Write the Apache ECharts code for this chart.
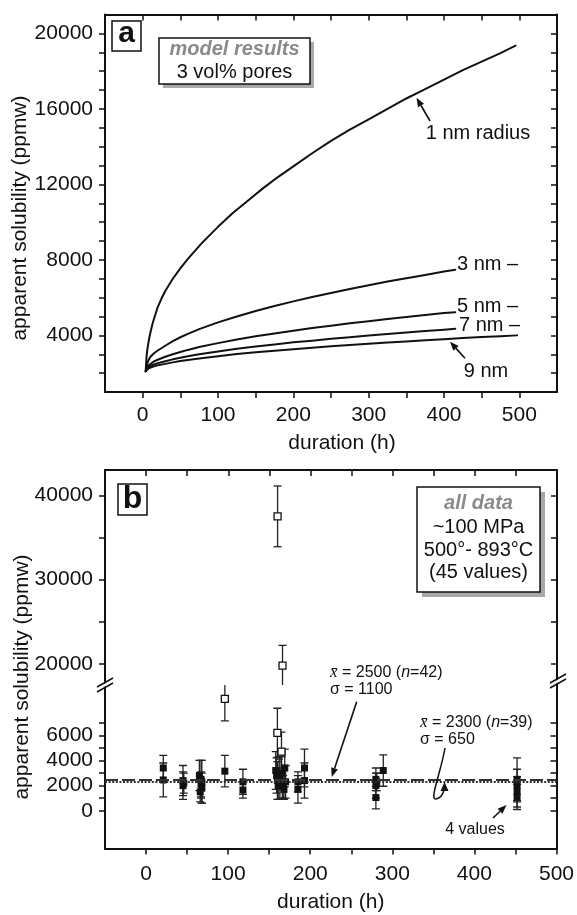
<!DOCTYPE html>
<html><head><meta charset="utf-8">
<script src="https://cdn.jsdelivr.net/npm/echarts@6/dist/echarts.min.js"></script>
<style>html,body{margin:0;padding:0;background:#fff}#c{width:577px;height:915px}</style>
</head><body><div id="c"></div>
<script>
const FONT = "'Liberation Sans', Arial, Helvetica, sans-serif";
const INK = '#111';

// ---------- Panel a: model curves (duration h, apparent solubility ppmw) ----------
const t1nm = [4,5,6,8,10,13,16,20,25,30,40,50,60,70,80,90,100,120,140,160,180,200,225,250,275,300,325,350,375,400,425,450,475,495];
const v1nm = [2100,2800,3200,3700,4100,4600,5000,5500,5950,6350,7000,7550,8050,8500,8950,9350,9750,10500,11150,11800,12400,12950,13650,14300,14900,15450,16000,16550,17050,17550,18050,18500,18950,19350];
const t3nm = [4,6,8,10,15,20,30,40,50,60,75,100,125,150,175,200,225,250,275,300,325,350,375,400,415];
const v3nm = [2100,2500,2700,2850,3050,3200,3450,3700,3900,4080,4330,4690,5000,5290,5560,5800,6030,6250,6460,6660,6850,7030,7200,7380,7480];
const t5nm = [4,6,8,10,15,20,30,40,50,60,75,100,125,150,175,200,225,250,275,300,325,350,375,400,415];
const v5nm = [2100,2300,2420,2500,2620,2710,2870,3000,3120,3230,3380,3590,3780,3950,4100,4250,4390,4510,4640,4750,4870,4970,5080,5180,5230];
const t7nm = [4,6,8,10,15,20,30,40,50,60,75,100,125,150,175,200,225,250,275,300,325,350,375,400,415];
const v7nm = [2100,2250,2330,2380,2460,2520,2630,2730,2810,2890,3000,3150,3290,3410,3520,3630,3720,3820,3900,3990,4070,4150,4230,4300,4350];
const t9nm = [4,6,8,10,15,20,30,40,50,60,75,100,125,150,175,200,225,250,275,300,325,350,375,400,425,450,475,497];
const v9nm = [2100,2200,2260,2300,2360,2410,2490,2570,2640,2700,2780,2900,3010,3100,3190,3270,3350,3420,3490,3560,3620,3680,3740,3800,3860,3910,3960,4000];

// ---------- Panel b: measurements ----------
const filledT = [21,21,45,45,46,65,67,67,68,66,68,96,118,118,158,159,160,161,162,163,165,166,167,168,169,170,185,185,193,193,280,280,280,281,289,452,452,452,452];
const filledV = [3400,2450,2400,2000,2200,2800,2500,2100,1800,1500,2300,3150,2300,1650,3200,2800,2400,2000,2900,2600,3000,2200,1900,1700,3400,2300,1700,2300,3400,2400,2500,2000,1050,2300,3200,2500,2000,1500,1100];
const filledErr = [1000,1350,1200,1100,800,1200,1500,1000,1200,800,1700,1250,1000,650,1500,1400,1500,1100,1200,1700,1300,1200,900,800,1500,1300,1100,800,1500,1400,900,1000,900,700,1250,1700,1300,1200,1000];
const openT = [96,160,165,160,166];
const openV = [8900,6200,4700,37500,19800];
const openErr = [1750,1950,1550,3600,2400];
const meanAll = 2500;   // n=42
const meanSub = 2300;   // n=39

// tick / label values
const xTicksA = [0,50,100,150,200,250,300,350,400,450,500];
const xLabelsA = [0,100,200,300,400,500];
const yTicksA = [2000,3000,4000,5000,6000,7000,8000,9000,10000,11000,12000,13000,14000,15000,16000,17000,18000,19000,20000];
const yLabelsA = [4000,8000,12000,16000,20000];
const xTicksB = [0,50,100,150,200,250,300,350,400,450];
const xLabelsB = [0,100,200,300,400,500];
const yTicksBup = [20000,25000,30000,35000,40000];
const yLabelsBup = [20000,30000,40000];
const yTicksBlo = [0,1000,2000,3000,4000,5000,6000,7000];
const yLabelsBlo = [0,2000,4000,6000];

const zip = (a,b)=>a.map((x,i)=>[x,b[i]]);
const zip3 = (a,b,c)=>a.map((x,i)=>[x,b[i],c[i]]);

const axLine = {show:true, onZero:false, lineStyle:{color:INK, width:2}};
const tick = (vals, inside)=>({show:true, inside:inside, length:6, customValues:vals, lineStyle:{color:INK, width:1.5}});
const lab = (vals, margin)=>({show:true, customValues:vals, fontSize:21, color:INK, fontFamily:FONT, margin:margin,
  formatter:function(v){ return String(Math.round(v)); }});
const noLab = {show:false};
const noSplit = {show:false};

function errRender(params, api){
  const x = api.value(0), y = api.value(1), e = api.value(2);
  const a = api.coord([x, y+e]);
  const b = api.coord([x, y-e]);
  const w = 4;
  const st = {stroke:'#222', lineWidth:1.3, fill:null};
  return {type:'group', children:[
    {type:'line', shape:{x1:a[0],y1:a[1],x2:b[0],y2:b[1]}, style:st},
    {type:'line', shape:{x1:a[0]-w,y1:a[1],x2:a[0]+w,y2:a[1]}, style:st},
    {type:'line', shape:{x1:b[0]-w,y1:b[1],x2:b[0]+w,y2:b[1]}, style:st}
  ]};
}

const curveStyle = {color:INK, width:2, join:'round', cap:'round'};
function curve(t,v){
  return {type:'line', xAxisIndex:0, yAxisIndex:0, data:zip(t,v), showSymbol:false, symbol:'none',
    smooth:false, lineStyle:curveStyle, silent:true, z:3};
}

const openAll = zip3(openT, openV, openErr);
const openUp = openAll.filter(d=>d[1]>15000);
const openLo = openAll.filter(d=>d[1]<=15000);
const filled = zip3(filledT, filledV, filledErr);

const option = {
  animation:false,
  backgroundColor:'#fff',
  grid:[
    {left:105, right:20, top:14.5, height:377.5, containLabel:false},
    {left:105, right:20, top:470, height:215, containLabel:false},
    {left:105, right:20, top:685, height:163.5, containLabel:false}
  ],
  xAxis:[
    {gridIndex:0, type:'value', min:-50, max:550, position:'bottom', axisLine:axLine, axisTick:tick(xTicksA,false),
     axisLabel:lab(xLabelsA,13), splitLine:noSplit,
     name:'duration (h)', nameLocation:'middle', nameGap:41,
     nameTextStyle:{fontSize:21, color:INK, fontFamily:FONT, padding:[0,0,0,22]}},
    {gridIndex:0, type:'value', min:-50, max:550, position:'top', axisLine:axLine, axisTick:tick(xTicksA,true),
     axisLabel:noLab, splitLine:noSplit},
    {gridIndex:1, type:'value', min:-50, max:500, position:'top', axisLine:axLine, axisTick:tick(xTicksB,true),
     axisLabel:noLab, splitLine:noSplit},
    {gridIndex:2, type:'value', min:-50, max:500, position:'bottom', axisLine:axLine, axisTick:tick(xTicksB.concat([500]),false),
     axisLabel:lab(xLabelsB,15), splitLine:noSplit,
     name:'duration (h)', nameLocation:'middle', nameGap:43,
     nameTextStyle:{fontSize:21, color:INK, fontFamily:FONT}}
  ],
  yAxis:[
    {gridIndex:0, type:'value', min:1000, max:21000, position:'left', axisLine:axLine, axisTick:tick(yTicksA,false),
     axisLabel:lab(yLabelsA,12), splitLine:noSplit},
    {gridIndex:0, type:'value', min:1000, max:21000, position:'right', axisLine:axLine, axisTick:tick(yTicksA,true),
     axisLabel:noLab, splitLine:noSplit},
    {gridIndex:1, type:'value', min:17500, max:43000, position:'left', axisLine:axLine, axisTick:tick(yTicksBup,false),
     axisLabel:lab(yLabelsBup,12), splitLine:noSplit},
    {gridIndex:1, type:'value', min:17500, max:43000, position:'right', axisLine:axLine, axisTick:tick(yTicksBup,true),
     axisLabel:noLab, splitLine:noSplit},
    {gridIndex:2, type:'value', min:-3000, max:10000, position:'left', axisLine:axLine, axisTick:tick(yTicksBlo,false),
     axisLabel:lab(yLabelsBlo,12), splitLine:noSplit},
    {gridIndex:2, type:'value', min:-3000, max:10000, position:'right', axisLine:axLine, axisTick:tick(yTicksBlo,true),
     axisLabel:noLab, splitLine:noSplit}
  ],
  series:[
    curve(t1nm,v1nm), curve(t3nm,v3nm), curve(t5nm,v5nm), curve(t7nm,v7nm), curve(t9nm,v9nm),
    // mean lines (lower panel b)
    {type:'line', xAxisIndex:3, yAxisIndex:4, data:[], silent:true,
     markLine:{silent:true, symbol:['none','none'], label:{show:false},
       data:[
         {yAxis:meanAll, lineStyle:{type:[13,4], color:'#333', width:2}},
         {yAxis:meanSub, lineStyle:{type:[2,1.6], color:'#333', width:2}}
       ]}, z:2},
    // error bars
    {type:'custom', xAxisIndex:3, yAxisIndex:4, data:filled, renderItem:errRender, encode:{x:0,y:1}, clip:true, silent:true, z:3},
    {type:'custom', xAxisIndex:3, yAxisIndex:4, data:openLo, renderItem:errRender, encode:{x:0,y:1}, clip:true, silent:true, z:3},
    {type:'custom', xAxisIndex:2, yAxisIndex:2, data:openUp, renderItem:errRender, encode:{x:0,y:1}, clip:true, silent:true, z:3},
    // squares
    {type:'scatter', xAxisIndex:3, yAxisIndex:4, data:filled.map(d=>[d[0],d[1]]), symbol:'rect', symbolSize:7,
     itemStyle:{color:INK, opacity:1}, silent:true, z:4},
    {type:'scatter', xAxisIndex:3, yAxisIndex:4, data:openLo.map(d=>[d[0],d[1]]), symbol:'rect', symbolSize:7,
     itemStyle:{color:'#fff', borderColor:INK, borderWidth:1.3, opacity:1}, silent:true, z:5},
    {type:'scatter', xAxisIndex:2, yAxisIndex:2, data:openUp.map(d=>[d[0],d[1]]), symbol:'rect', symbolSize:7,
     itemStyle:{color:'#fff', borderColor:INK, borderWidth:1.3, opacity:1}, silent:true, z:5}
  ]
};

// ---------- annotations ----------
function txt(text, x, y, opt){
  opt = opt || {};
  return {type:'text', z:110, silent:true, rotation:opt.rotation||0, x:x, y:y,
    style:{text:text, x:0, y:0, fill:opt.fill||INK,
      font:(opt.style||'normal')+' '+(opt.weight||'normal')+' '+(opt.size||20)+'px '+(opt.family||FONT),
      textAlign:opt.align||'center', align:opt.align||'center',
      textVerticalAlign:'middle', verticalAlign:'middle', rich:opt.rich}};
}
function arrow(x1,y1,x2,y2){
  const head=9, w=3.5;
  const dx=x2-x1, dy=y2-y1, L=Math.hypot(dx,dy), ux=dx/L, uy=dy/L;
  const bx=x2-ux*head, by=y2-uy*head;
  return [
    {type:'line', z:110, silent:true, shape:{x1:x1,y1:y1,x2:bx,y2:by}, style:{stroke:INK, lineWidth:1.6}},
    {type:'polygon', z:110, silent:true, shape:{points:[[x2,y2],[bx-uy*w,by+ux*w],[bx+uy*w,by-ux*w]]}, style:{fill:INK}}
  ];
}
function box(x,y,w,h,sh){
  const out = [];
  if (sh) out.push({type:'rect', z:105, silent:true, shape:{x:x+sh,y:y+sh,width:w,height:h}, style:{fill:'#a8a8a8'}});
  out.push({type:'rect', z:106, silent:true, shape:{x:x,y:y,width:w,height:h}, style:{fill:'#fff', stroke:INK, lineWidth:1.5}});
  return out;
}
function breakMark(cx, cy){
  const dx=8, dy=4.5, gap=5;
  return [
    {type:'polygon', z:108, silent:true, shape:{points:[[cx-dx,cy+dy-gap/2+1],[cx+dx,cy-dy-gap/2+1],[cx+dx,cy-dy+gap/2-1],[cx-dx,cy+dy+gap/2-1]]}, style:{fill:'#fff'}},
    {type:'line', z:109, silent:true, shape:{x1:cx-dx,y1:cy+dy-gap/2,x2:cx+dx,y2:cy-dy-gap/2}, style:{stroke:INK, lineWidth:1.5}},
    {type:'line', z:109, silent:true, shape:{x1:cx-dx,y1:cy+dy+gap/2,x2:cx+dx,y2:cy-dy+gap/2}, style:{stroke:INK, lineWidth:1.5}}
  ];
}
const xbarRich = {
  xb:{fontFamily:"'Liberation Serif', 'DejaVu Serif', serif", fontStyle:'italic', fontSize:17, fill:INK},
  it:{fontFamily:FONT, fontStyle:'italic', fontSize:16, fill:INK},
  n:{fontFamily:FONT, fontSize:16, fill:INK}
};
const graphics = [].concat(
  // y-axis titles
  txt('apparent solubility (ppmw)', 20, 218, {size:21, rotation:Math.PI/2}),
  txt('apparent solubility (ppmw)', 22, 677, {size:21, rotation:Math.PI/2}),
  // panel a
  box(112,21,29,30,0),
  txt('a', 126.5, 34, {size:30, weight:'bold'}),
  box(159,38,151,46,4),
  txt('model results', 234.5, 49.5, {size:20, weight:'bold', style:'italic', fill:'#8a8a8a'}),
  txt('3 vol% pores', 234.5, 72, {size:20}),
  txt('1 nm radius', 478, 133, {size:20}),
  arrow(430,121,416.5,97.7),
  txt('3 nm \u2013', 457, 264, {size:20, align:'left'}),
  txt('5 nm \u2013', 457, 306, {size:20, align:'left'}),
  txt('7 nm \u2013', 459, 325, {size:20, align:'left'}),
  txt('9 nm', 486, 371, {size:20}),
  arrow(465,358.3,450,341.7),
  // panel b
  box(118,484,29,31,0),
  txt('b', 132.5, 499, {size:32, weight:'bold'}),
  box(417,487,123,105,5),
  txt('all data', 478.5, 503.5, {size:20, weight:'bold', style:'italic', fill:'#8a8a8a'}),
  txt('~100 MPa', 478.5, 527, {size:20}),
  txt('500\u00b0- 893\u00b0C', 478.5, 550, {size:20}),
  txt('(45 values)', 478.5, 572, {size:20}),
  txt('{xb|x\u0304}{n| = 2500 (}{it|n}{n|=42)}', 330, 673, {size:16, align:'left', rich:xbarRich}),
  txt('\u03c3 = 1100', 330, 690, {size:16, align:'left'}),
  arrow(356.7,701.7,331.7,777),
  txt('{xb|x\u0304}{n| = 2300 (}{it|n}{n|=39)}', 420, 723, {size:16, align:'left', rich:xbarRich}),
  txt('\u03c3 = 650', 420, 740, {size:16, align:'left'}),
  [{type:'bezierCurve', z:110, silent:true, shape:{x1:445,y1:748,cpx1:441,cpy1:772,cpx2:429,cpy2:800,x2:436,y2:799}, style:{stroke:INK, lineWidth:1.5, fill:null}}],
  [{type:'bezierCurve', z:110, silent:true, shape:{x1:436,y1:799,cpx1:441,cpy1:798,cpx2:443,cpy2:794,x2:444,y2:790}, style:{stroke:INK, lineWidth:1.5, fill:null}}],
  [{type:'polygon', z:110, silent:true, shape:{points:[[444.5,782],[440.5,791],[448.5,791]]}, style:{fill:INK}}],
  txt('4 values', 475, 830, {size:16}),
  arrow(493,818,506.5,805),
  breakMark(105,685),
  breakMark(558,681)
);
option.graphic = {elements: graphics};

const chart = echarts.init(document.getElementById('c'), null, {renderer:'canvas'});
chart.setOption(option);
</script>
</body></html>
